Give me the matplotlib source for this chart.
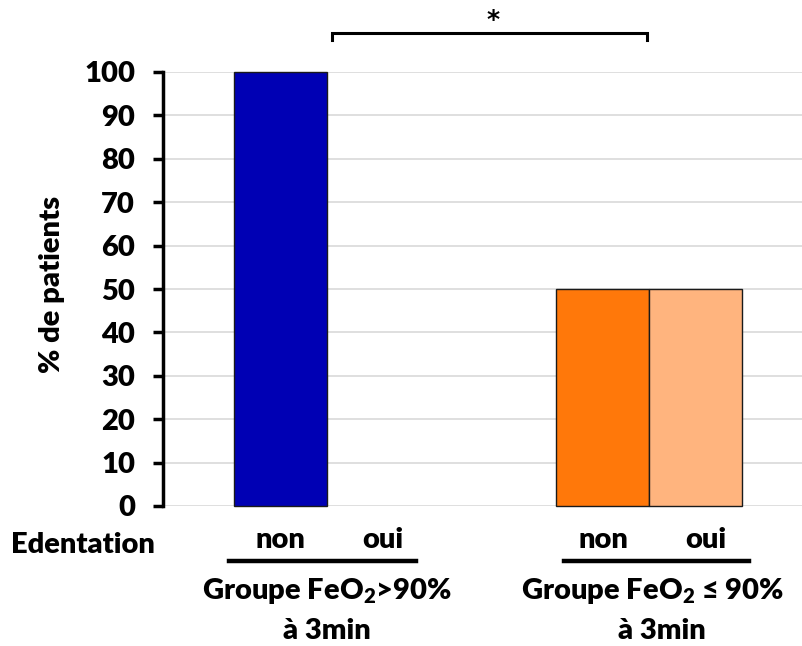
import matplotlib
matplotlib.use("Agg")
import matplotlib.pyplot as plt
import numpy as np

# ---- data ----
groups = ["Groupe FeO$_{2}$>90%\nà 3min", "Groupe FeO$_{2}$ \u2264 90%\nà 3min"]
series_names = ["non", "oui"]
non_values = [100, 50]
oui_values = [0, 50]
y_ticks = [0, 10, 20, 30, 40, 50, 60, 70, 80, 90, 100]
y_label = "% de patients"
row_label = "Edentation"
signif = "*"

non_colors = ["#0000B4", "#FF780A"]
oui_colors = ["#FFB27C", "#FFB47E"]

FONT = ["Lato", "DejaVu Sans"]
plt.rcParams["font.family"] = FONT
plt.rcParams["mathtext.fontset"] = "custom"
plt.rcParams["mathtext.rm"] = "Lato:heavy"
plt.rcParams["mathtext.it"] = "Lato:heavy"
plt.rcParams["mathtext.bf"] = "Lato:heavy"
plt.rcParams["mathtext.default"] = "rm"
FS = 21
FW = "heavy"

W, H = 802, 646
fig = plt.figure(figsize=(W / 100, H / 100), dpi=100)

def fx(px):
    return px / W

def fy(py):
    return 1 - py / H

ax = fig.add_axes([fx(163), fy(506), fx(802) - fx(163), fy(72) - fy(506)])

x = np.arange(len(groups))
bw = 0.289
ax.bar(x - bw / 2, non_values, width=bw, color=non_colors, edgecolor="#1a1a1a",
       linewidth=[1.0 if v > 0 else 0 for v in non_values], zorder=3, clip_on=False)
ax.bar(x + bw / 2, oui_values, width=bw, color=oui_colors, edgecolor="#1a1a1a",
       linewidth=[1.0 if v > 0 else 0 for v in oui_values], zorder=3, clip_on=False)

ax.set_xlim(-0.509, 1.475)
ax.set_ylim(0, 100)
ax.set_yticks(y_ticks)
ax.set_yticklabels([str(v) for v in y_ticks], fontsize=FS, fontweight=FW)
ax.set_xticks([])
ax.grid(axis="y", color="#D9D9D9", linewidth=1.2, zorder=0)
for s in ["top", "right", "bottom"]:
    ax.spines[s].set_visible(False)
ax.spines["left"].set_linewidth(2.5)
ax.spines["left"].set_color("black")
ax.spines["left"].set_zorder(4)
ax.tick_params(axis="y", direction="out", length=7, width=2.5, pad=13, colors="black")

# y label
fig.text(fx(52), fy(284), y_label, rotation=90, ha="center", va="center",
         fontsize=FS, fontweight=FW)

# row label
fig.text(fx(83), fy(553), row_label, ha="center", va="baseline",
         fontsize=FS, fontweight=FW)

trans = ax.transData
def data_to_fig_x(xd):
    disp = trans.transform((xd, 0))
    return fig.transFigure.inverted().transform(disp)[0]

label_off = {"non": -0.143, "oui": 0.175}
for i in range(len(groups)):
    for name in series_names:
        fig.text(data_to_fig_x(x[i] + label_off[name]), fy(548), name,
                 ha="center", va="baseline", fontsize=FS, fontweight=FW)
    # underline
    l0 = data_to_fig_x(x[i] - 0.305 + (0.0 if i == 0 else 0.04))
    l1 = data_to_fig_x(x[i] + 0.275 + (0.0 if i == 0 else 0.035))
    fig.add_artist(plt.Line2D([l0, l1], [fy(561), fy(561)], color="black",
                              linewidth=3.2, transform=fig.transFigure))
    line1, line2 = groups[i].split("\n")
    cx = data_to_fig_x(x[i] + (0.0 if i == 0 else 0.012))
    fig.text(cx, fy(599), line1, ha="center", va="baseline", fontsize=FS,
             fontweight=FW)
    fig.text(data_to_fig_x(x[i] + (0.0 if i == 0 else 0.04)), fy(639), line2,
             ha="center", va="baseline", fontsize=FS, fontweight=FW)

# significance bracket
bx0 = x[0] + 0.016
bx1 = x[1] - 0.006
ax.plot([bx0, bx0, bx1, bx1], [107.4, 109.0, 109.0, 107.4], color="black",
        linewidth=2.2, clip_on=False, solid_joinstyle="miter")
ax.text((bx0 + bx1) / 2 + 0.01, 109.3, signif, ha="center", va="bottom",
        fontsize=18, fontweight="bold", family=["DejaVu Sans"])

fig.savefig("out.png", dpi=100)
